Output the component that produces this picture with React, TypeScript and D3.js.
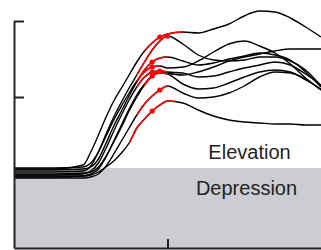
import React, { useEffect, useRef } from 'react';
import * as d3 from 'd3';

// sample times (ms) shared by every trace
const times = [0, 25, 45, 50, 55, 60, 65, 70, 75, 80, 85, 90, 95, 100, 110, 120, 130, 140, 150, 160, 170, 180, 190, 200];

// traces
const trace1 = [4, 4, 8, 21, 38, 56, 72, 85, 98, 111, 122, 130, 136, 139, 141, 140, 144, 149, 157, 162, 161, 155, 146, 136];
const trace2 = [1, 1, 2, 7, 21, 39, 56, 71, 85, 98, 111, 123, 132, 137, 129, 118, 113, 112, 113, 116, 116, 112, 103, 87];
const trace3 = [5, 5, 6, 10, 21, 37, 53, 67, 80, 92, 101, 106, 107, 105, 106, 112, 121, 129, 132, 127, 120, 109, 95, 83];
const trace4 = [-2, -2, -1, 2, 10, 25, 42, 58, 73, 86, 96, 101, 102, 100, 98, 101, 106, 112, 116, 119, 122, 124, 124, 124];
const trace5 = [3, 3, 4, 6, 14, 30, 47, 62, 77, 91, 103, 111, 115, 116, 112, 108, 110, 114, 117, 120, 118, 113, 101, 86];
const trace6 = [-4, -4, -3, -1, 4, 16, 32, 48, 64, 78, 89, 97, 100, 99, 89, 84, 85, 90, 96, 101, 103, 101, 93, 84];
const trace7 = [-1, -1, 0, 1, 6, 17, 31, 46, 62, 76, 88, 97, 102, 101, 100, 96, 97, 101, 105, 108, 111, 108, 99, 88];
const trace8 = [-5, -5, -5, -4, -1, 7, 19, 32, 45, 58, 69, 77, 83, 87, 80, 75, 76, 80, 87, 96, 101, 100, 94, 83];
const trace9 = [-3, -3, -3, -2, 1, 6, 12, 20, 30, 45, 54, 62, 68, 72, 70, 63, 57, 53, 51, 50, 49, 49, 48, 48];
const traces = [trace1, trace2, trace3, trace4, trace5, trace6, trace7, trace8, trace9];

// red window and marker time per trace
const redFrom = [85, 80, 80, 80, 80, 85, 85, 80, 75];
const redTo = [110, 100, 95, 95, 100, 100, 100, 100, 105];
const dotAt = [95, 100, 90, 90, 90, 90, 95, 95, 90];

const yTicks = [76, 152];
const xTicks = [100];
const splitLevel = 5;
const labels = ['Elevation', 'Depression'];

function drawChart(svgRoot: SVGSVGElement) {
    const svg = d3.select(svgRoot);
    svg.selectChildren().remove();

    const width = 321;
    const height = 250;

    const xScale = d3.scaleLinear().domain([0, 200]).range([14, 321]);
    const yScale = d3.scaleLinear().domain([-75, 152]).range([248, 21]);

    svg.attr('width', width).attr('height', height);

    // depression band
    svg.append('rect')
        .attr('x', xScale(0))
        .attr('y', yScale(splitLevel))
        .attr('width', xScale(200) - xScale(0))
        .attr('height', yScale(-75) - yScale(splitLevel))
        .attr('fill', '#cccdd2');

    const lineGen = d3.line<number>()
        .x((d, i) => xScale(times[i]))
        .y((d) => yScale(d))
        .curve(d3.curveMonotoneX);

    const defs = svg.append('defs');
    traces.forEach((t, i) => {
        defs.append('clipPath')
            .attr('id', `red-win-${i}`)
            .append('rect')
            .attr('x', xScale(redFrom[i]))
            .attr('y', 0)
            .attr('width', xScale(redTo[i]) - xScale(redFrom[i]))
            .attr('height', height);
    });

    const g = svg.append('g');

    // black traces
    g.selectAll('.trace')
        .data(traces)
        .enter().append('path')
        .attr('class', 'trace')
        .attr('fill', 'none')
        .attr('stroke', '#000')
        .attr('stroke-width', 1.4)
        .attr('d', (d) => lineGen(d));

    // red part of each trace
    g.selectAll('.red')
        .data(traces)
        .enter().append('path')
        .attr('class', 'red')
        .attr('clip-path', (d, i) => `url(#red-win-${i})`)
        .attr('fill', 'none')
        .attr('stroke', '#ff0000')
        .attr('stroke-width', 1.5)
        .attr('d', (d) => lineGen(d));

    // markers
    g.selectAll('.dot')
        .data(traces)
        .enter().append('circle')
        .attr('class', 'dot')
        .attr('fill', '#ff0000')
        .attr('cx', (d, i) => xScale(dotAt[i]))
        .attr('cy', (d, i) => yScale(d[times.indexOf(dotAt[i])]))
        .attr('r', 2.6);

    // axes
    const yAxis = svg.append('g')
        .attr('transform', `translate(${xScale(0)},0)`)
        .call(d3.axisLeft(yScale).tickValues(yTicks).tickSize(-10).tickSizeOuter(0).tickFormat(() => ''));
    const xAxis = svg.append('g')
        .attr('transform', `translate(0,${yScale(-75)})`)
        .call(d3.axisBottom(xScale).tickValues(xTicks).tickSize(-9).tickSizeOuter(0).tickFormat(() => ''));
    [yAxis, xAxis].forEach((ax) => {
        ax.selectAll('path, line').attr('stroke', '#222').attr('stroke-width', 2);
    });

    // band labels
    svg.append('text')
        .attr('x', 249.5)
        .attr('y', 159)
        .attr('text-anchor', 'middle')
        .attr('font-family', '"Liberation Sans", Arial, sans-serif')
        .attr('font-size', 20)
        .attr('fill', '#222')
        .text(labels[0]);
    svg.append('text')
        .attr('x', 246.5)
        .attr('y', 195)
        .attr('text-anchor', 'middle')
        .attr('font-family', '"Liberation Sans", Arial, sans-serif')
        .attr('font-size', 20)
        .attr('fill', '#222')
        .text(labels[1]);
}

export default function App() {
    const svgRef = useRef<SVGSVGElement>(null);

    useEffect(() => {
        svgRef.current && drawChart(svgRef.current);
    }, []);

    return (
        <svg ref={svgRef} style={{ position: 'absolute', left: 0, top: 0, display: 'block' }} />
    );
}
